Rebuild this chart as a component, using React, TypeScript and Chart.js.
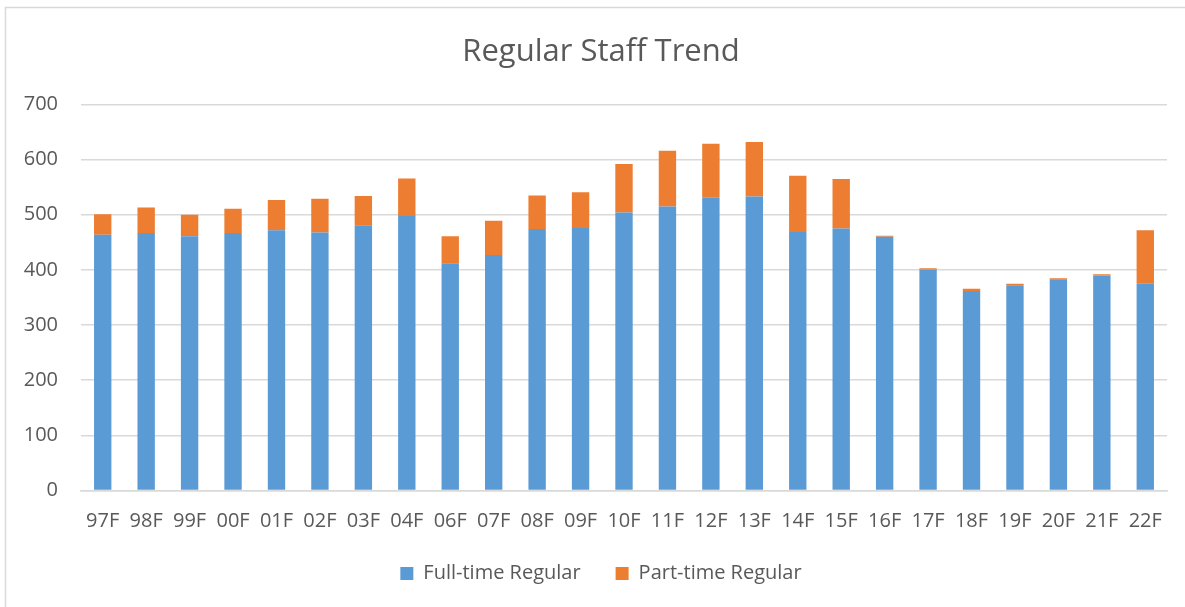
import React, { useEffect, useRef } from "react";
import { Chart, registerables } from "chart.js";

Chart.register(...registerables);

const categories = ["97F","98F","99F","00F","01F","02F","03F","04F","06F","07F","08F","09F","10F","11F","12F","13F","14F","15F","16F","17F","18F","19F","20F","21F","22F"];
const fullTime = [464,467,461,467,472,468,481,498,412,427,474,476,504,515,531,533,469,475,460,401,362,372,383,390,375];
const partTime = [37,46,39,44,55,61,53,68,49,62,61,65,88,101,98,99,102,90,2,2,4,3,2,2,97];
const yTicks = [0,100,200,300,400,500,600,700];

const TEXT = "#595959";
const GRID = "#d9d9d9";
const FONT = "'Open Sans', sans-serif";

const frame = {
  id: "frame",
  afterDraw(chart: any) {
    const ctx = chart.ctx;
    ctx.save();
    ctx.strokeStyle = GRID;
    ctx.lineWidth = 1.5;
    ctx.beginPath();
    ctx.moveTo(5.5, 700);
    ctx.lineTo(5.5, 7.5);
    ctx.lineTo(2000, 7.5);
    ctx.stroke();
    ctx.restore();
  },
};

export default function App() {
  const ref = useRef<HTMLCanvasElement>(null);
  useEffect(() => {
    document.body.style.margin = "0";
    const chart = new Chart(ref.current as HTMLCanvasElement, {
      type: "bar",
      data: {
        labels: categories,
        datasets: [
          { label: "Full-time Regular", data: fullTime, backgroundColor: "#5B9BD5", borderWidth: 0, categoryPercentage: 1, barPercentage: 0.4 },
          { label: "Part-time Regular", data: partTime, backgroundColor: "#ED7D31", borderWidth: 0, categoryPercentage: 1, barPercentage: 0.4 },
        ],
      },
      options: {
        responsive: false,
        animation: false,
        layout: { padding: { left: 17, right: 0, top: 0, bottom: 13.5 } },
        plugins: {
          title: {
            display: true,
            text: "Regular Staff Trend",
            color: TEXT,
            font: { family: FONT, size: 31, weight: "normal" },
            padding: { top: 33.5, bottom: 33.8 },
          },
          legend: {
            position: "bottom",
            labels: {
              color: TEXT,
              font: { family: FONT, size: 20 },
              boxWidth: 13,
              boxHeight: 13,
              padding: 35,
            },
          },
          tooltip: { enabled: false },
        },
        scales: {
          x: {
            stacked: true,
            grid: { display: false, drawTicks: false },
            border: { color: GRID, width: 1.5 },
            ticks: { color: TEXT, font: { family: FONT, size: 20 }, padding: 19, maxRotation: 0, autoSkip: false },
            afterFit: (s: any) => { s.height = 38; },
          },
          y: {
            stacked: true,
            min: 0,
            max: 700,
            grid: { color: GRID, lineWidth: 1.5, drawTicks: false },
            border: { display: false },
            afterBuildTicks: (s: any) => { s.ticks = yTicks.map((v) => ({ value: v })); },
            ticks: { color: TEXT, font: { family: FONT, size: 20 }, padding: 23 },
            afterFit: (s: any) => { s.width = 64; },
          },
          yRight: {
            position: "right",
            display: true,
            min: 0,
            max: 700,
            grid: { display: false, drawTicks: false },
            border: { display: false },
            ticks: { display: false },
            afterFit: (s: any) => { s.width = 18; },
          },
        },
      },
      plugins: [frame],
    });
    return () => chart.destroy();
  }, []);
  return (
    <div style={{ width: 1185, height: 607 }}>
      <canvas ref={ref} width={1185} height={607} />
    </div>
  );
}
